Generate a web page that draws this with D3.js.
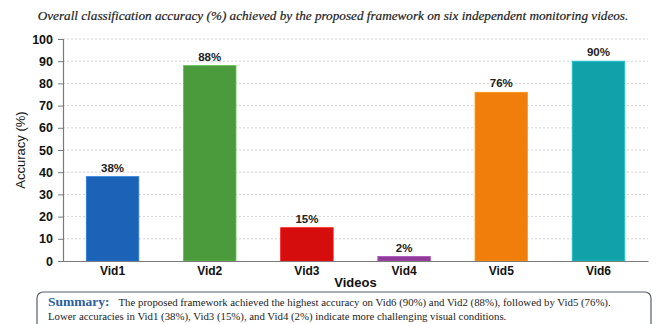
<!DOCTYPE html>
<html>
<head>
<meta charset="utf-8">
<script src="https://cdn.jsdelivr.net/npm/d3@7"></script>
<style>
  body { margin: 0; background: #fff; }
  svg { display: block; }
</style>
</head>
<body>
<div id="chart"></div>
<script>
var videos = ["Vid1", "Vid2", "Vid3", "Vid4", "Vid5", "Vid6"];
var accuracy = [38, 88, 15, 2, 76, 90];
var barColors = ["#1c63b7", "#4b9a3c", "#d50d0d", "#8f3c99", "#f17d0a", "#10a1a9"];
var yTicks = [0, 10, 20, 30, 40, 50, 60, 70, 80, 90, 100];

var width = 662, height = 324;
var margin = {top: 39, right: 14, bottom: 63, left: 63};

var svg = d3.select("#chart").append("svg")
    .attr("width", width)
    .attr("height", height);

// title
svg.append("text")
    .attr("x", 333)
    .attr("y", 20)
    .attr("text-anchor", "middle")
    .style("font-family", "'Liberation Serif', 'DejaVu Serif', serif")
    .style("font-style", "italic")
    .style("font-size", "13.2px")
    .style("fill", "#1a1a1a")
    .style("stroke", "#1a1a1a")
    .style("stroke-width", 0.2)
    .text("Overall classification accuracy (%) achieved by the proposed framework on six independent monitoring videos.");

var x = d3.scaleBand()
    .domain(videos)
    .range([margin.left, width - margin.right])
    .paddingInner(0.46)
    .paddingOuter(0.24);

var y = d3.scaleLinear()
    .domain([0, 100])
    .range([height - margin.bottom, margin.top]);

// gridlines
svg.append("g")
    .attr("class", "grid")
    .selectAll("line")
    .data(yTicks.filter(function(d) { return d > 0; }))
    .enter().append("line")
    .attr("x1", margin.left)
    .attr("x2", width - margin.right)
    .attr("y1", function(d) { return y(d); })
    .attr("y2", function(d) { return y(d); })
    .style("stroke", "#c8c8c8")
    .style("stroke-width", 0.8)
    .style("stroke-dasharray", "2,2");

// y axis
var yAxis = svg.append("g")
    .attr("transform", "translate(" + margin.left + ",0)")
    .call(d3.axisLeft(y).tickValues(yTicks).tickSize(5).tickPadding(5));

yAxis.select(".domain").style("stroke", "#7a7a7a").style("stroke-width", 1.2);
yAxis.selectAll(".tick line").style("stroke", "#7a7a7a");
yAxis.selectAll(".tick text")
    .style("font-family", "'Liberation Sans', Arial, sans-serif")
    .style("font-weight", "bold")
    .style("font-size", "12.5px")
    .style("fill", "#111");

// bars
svg.append("g")
    .selectAll("rect")
    .data(accuracy)
    .enter().append("rect")
    .attr("x", function(d, i) { return x(videos[i]); })
    .attr("y", function(d) { return y(d); })
    .attr("width", x.bandwidth())
    .attr("height", function(d) { return y(0) - y(d); })
    .style("fill", function(d, i) { return barColors[i]; })
    .style("stroke", function(d, i) { return d3.rgb(barColors[i]).brighter(0.6); })
    .style("stroke-width", 0.8);

// value labels
svg.append("g")
    .selectAll("text")
    .data(accuracy)
    .enter().append("text")
    .attr("x", function(d, i) { return x(videos[i]) + x.bandwidth() / 2; })
    .attr("y", function(d) { return y(d) - 5; })
    .attr("text-anchor", "middle")
    .style("font-family", "'Liberation Sans', Arial, sans-serif")
    .style("font-weight", "bold")
    .style("font-size", "11.5px")
    .style("fill", "#222")
    .text(function(d) { return d + "%"; });

// x axis
var xAxis = svg.append("g")
    .attr("transform", "translate(0," + y(0) + ")")
    .call(d3.axisBottom(x).tickSize(0).tickPadding(5));

xAxis.select(".domain").style("stroke", "#7a7a7a").style("stroke-width", 1.2);
xAxis.selectAll(".tick text")
    .style("font-family", "'Liberation Sans', Arial, sans-serif")
    .style("font-weight", "bold")
    .style("font-size", "12px")
    .style("fill", "#111");

// axis titles
svg.append("text")
    .attr("x", (margin.left + width - margin.right) / 2)
    .attr("y", 287)
    .attr("text-anchor", "middle")
    .style("font-family", "'Liberation Sans', Arial, sans-serif")
    .style("font-weight", "bold")
    .style("font-size", "13px")
    .style("fill", "#111")
    .text("Videos");

svg.append("text")
    .attr("transform", "translate(25," + y(50) + ") rotate(-90)")
    .attr("text-anchor", "middle")
    .style("font-family", "'Liberation Sans', Arial, sans-serif")
    .style("font-size", "13px")
    .style("fill", "#111")
    .text("Accuracy (%)");

// summary box
svg.append("rect")
    .attr("x", 37)
    .attr("y", 292)
    .attr("width", 614)
    .attr("height", 50)
    .attr("rx", 6)
    .style("fill", "#fff")
    .style("stroke", "#555d6a")
    .style("stroke-width", 1.2);

var line1 = svg.append("text")
    .attr("x", 48)
    .attr("y", 306)
    .style("font-family", "'Liberation Serif', 'DejaVu Serif', serif")
    .style("font-size", "10.8px")
    .style("fill", "#222");

line1.append("tspan")
    .style("font-weight", "bold")
    .style("font-size", "13.5px")
    .style("fill", "#2b5d9b")
    .text("Summary:");

line1.append("tspan")
    .attr("dx", 9)
    .text("The proposed framework achieved the highest accuracy on Vid6 (90%) and Vid2 (88%), followed by Vid5 (76%).");

svg.append("text")
    .attr("x", 48)
    .attr("y", 320)
    .style("font-family", "'Liberation Serif', 'DejaVu Serif', serif")
    .style("font-size", "10.8px")
    .style("fill", "#222")
    .text("Lower accuracies in Vid1 (38%), Vid3 (15%), and Vid4 (2%) indicate more challenging visual conditions.");
</script>
</body>
</html>
